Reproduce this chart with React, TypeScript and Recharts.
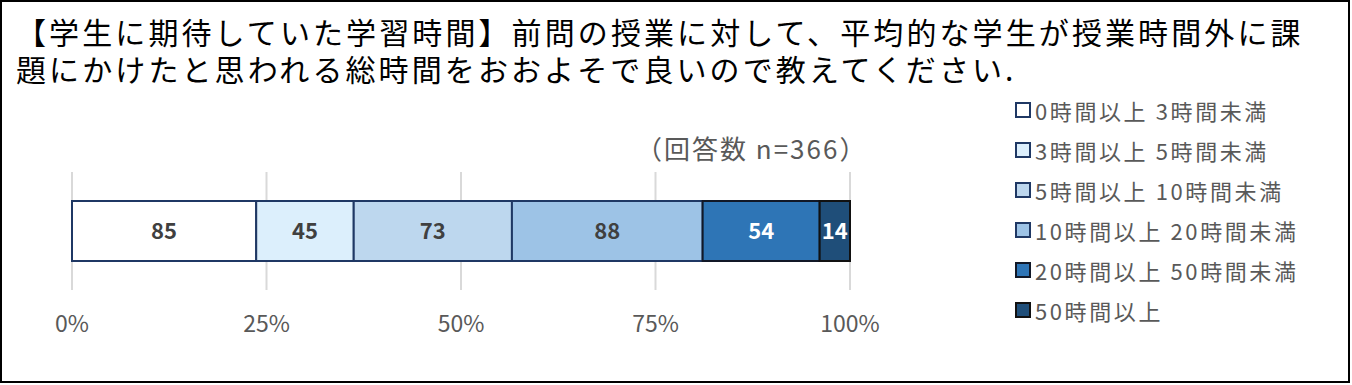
import { Bar, BarChart, CartesianGrid, LabelList, XAxis, YAxis } from "recharts";

const categories = ["全体"];
const seriesNames = [
  "0時間以上 3時間未満",
  "3時間以上 5時間未満",
  "5時間以上 10時間未満",
  "10時間以上 20時間未満",
  "20時間以上 50時間未満",
  "50時間以上",
];
const seriesValues = [85, 45, 73, 88, 54, 14];
const seriesColors = ["#ffffff", "#dceffc", "#bdd7ee", "#9dc3e6", "#2e75b6", "#1f4e79"];
const seriesStrokes = ["#1f3864", "#1f3864", "#1f3864", "#1f3864", "#111827", "#111111"];
const labelColors = ["#404040", "#404040", "#404040", "#404040", "#ffffff", "#ffffff"];
const xTicks = [0, 0.25, 0.5, 0.75, 1];

const titleLines = [
  "【学生に期待していた学習時間】前問の授業に対して、平均的な学生が授業時間外に課",
  "題にかけたと思われる総時間をおおよそで良いので教えてください.",
];
const noteText = "（回答数 n=366）";

const FONT = '"Noto Sans CJK JP", "Noto Sans", sans-serif';

const data = categories.map((name) => {
  const row: Record<string, string | number> = { name };
  seriesNames.forEach((s, i) => {
    row[s] = seriesValues[i];
  });
  return row;
});

// Legend sits beside the plot as plain HTML so it doesn't eat into the plot width.
function LegendList() {
  return (
    <ul style={{ position: "absolute", left: 1013, top: 88, listStyle: "none", margin: 0, padding: 0 }}>
      {seriesNames.map((s, i) => (
        <li
          key={s}
          style={{
            display: "flex",
            alignItems: "center",
            height: 40,
            fontSize: 22,
            letterSpacing: 2.6,
            color: "#595959",
            whiteSpace: "nowrap",
          }}
        >
          <span
            style={{
              width: 12,
              height: 12,
              marginRight: 4,
              background: seriesColors[i],
              border: `2px solid ${seriesStrokes[i]}`,
              display: "inline-block",
            }}
          />
          {s}
        </li>
      ))}
    </ul>
  );
}

export default function App() {
  return (
    <div
      style={{
        position: "absolute",
        left: 0,
        top: 0,
        width: 1350,
        height: 383,
        border: "2px solid #000",
        boxSizing: "border-box",
        background: "#fff",
        fontFamily: FONT,
      }}
    >
      {titleLines.map((t, i) => (
        <div
          key={t}
          style={{
            position: "absolute",
            left: 14,
            top: 12 + i * 37,
            fontSize: 30,
            letterSpacing: 3.1,
            lineHeight: "34px",
            height: 34,
            color: "#000",
            whiteSpace: "nowrap",
          }}
        >
          {t}
        </div>
      ))}
      <div
        style={{
          position: "absolute",
          left: 634,
          top: 127,
          fontSize: 26,
          letterSpacing: 2,
          color: "#595959",
          whiteSpace: "nowrap",
        }}
      >
        {noteText}
      </div>
      <div style={{ position: "absolute", left: -2, top: -2 }}>
        <BarChart
          width={1352}
          height={385}
          data={data}
          layout="vertical"
          stackOffset="expand"
          margin={{ top: 172, right: 502, bottom: 55, left: 72 }}
        >
          <CartesianGrid horizontal={false} stroke="#d9d9d9" strokeWidth={2} />
          <XAxis
            type="number"
            domain={[0, 1]}
            ticks={xTicks}
            tickFormatter={(v: number) => `${Math.round(v * 100)}%`}
            axisLine={false}
            tickLine={false}
            height={40}
            tickMargin={20}
            tick={{ fill: "#595959", fontSize: 23, fontFamily: FONT }}
            interval={0}
          />
          <YAxis type="category" dataKey="name" hide />
          {seriesNames.map((s, i) => (
            <Bar
              key={s}
              dataKey={s}
              stackId="a"
              fill={seriesColors[i]}
              stroke={seriesStrokes[i]}
              strokeWidth={2}
              barSize={60}
              isAnimationActive={false}
            >
              <LabelList
                dataKey={s}
                position="center"
                fill={labelColors[i]}
                style={{ fontSize: 22, fontWeight: 700, fontFamily: FONT }}
              />
            </Bar>
          ))}
        </BarChart>
      </div>
      <LegendList />
    </div>
  );
}
